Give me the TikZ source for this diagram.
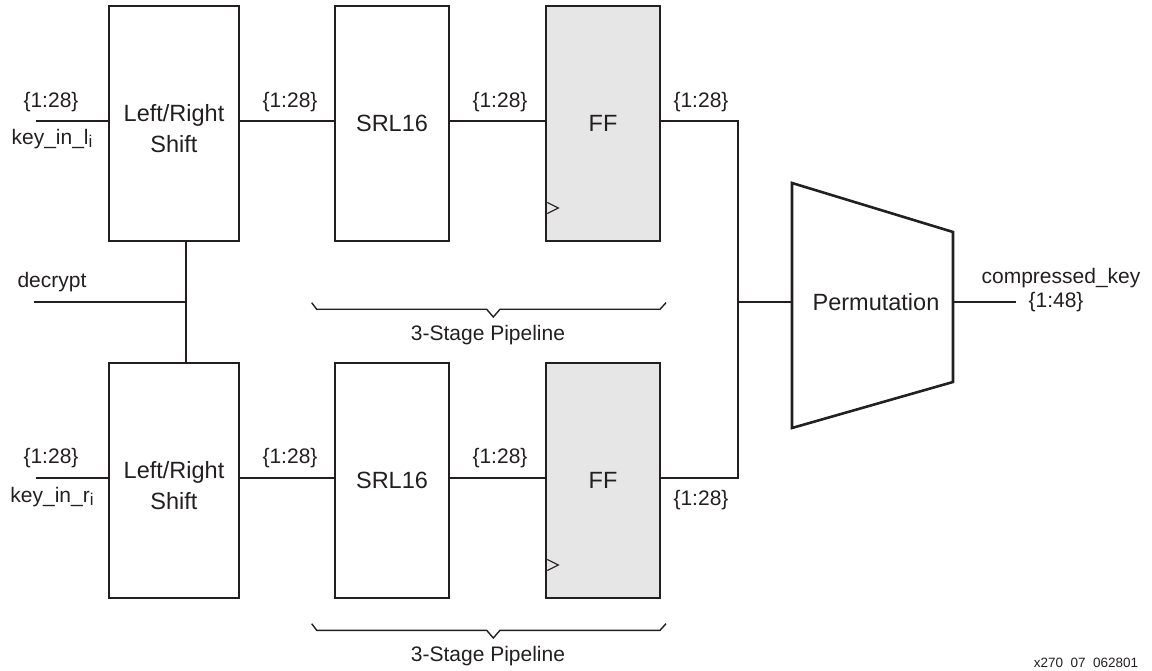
\documentclass[tikz,border=0pt]{standalone}
\usepackage{fontspec}
\setmainfont{Liberation Sans}
\definecolor{ink}{HTML}{231F20}
\definecolor{ffgray}{HTML}{E6E6E6}
\begin{document}
\begin{tikzpicture}[x=1pt,y=-1pt,
  every node/.style={text=ink, font=\fontsize{21}{30}\selectfont},
  blk/.style={draw=ink, line width=2.6pt, inner sep=0pt, outer sep=0pt, minimum height=235pt, align=center, font=\fontsize{23.5}{31}\selectfont},
  lrblk/.style={blk, minimum width=130pt},
  srlblk/.style={blk, minimum width=114pt},
  ffblk/.style={blk, minimum width=114pt, fill=ffgray},
  bus/.style={draw=ink, line width=2.6pt},
  wire/.style={draw=ink, line width=1.4pt},
  lbl/.style={inner sep=0pt},
  pipebrace/.pic={
    \draw[wire] (311.7,302.7) -- (316.7,309.3) -- (486.7,309.3) -- (493.3,317) -- (500,309.3) -- (660,309.3) -- (666,302.7);
  }
]
\useasboundingbox (0,0) rectangle (1152,671);

\coordinate (rowA) at (0,121);
\coordinate (rowB) at (0,478);

% top row
\node[lrblk, label={[font=\fontsize{23.5}{31}\selectfont, align=center, text=ink, yshift=-5pt]center:Left/Right\\Shift}] (lr1) at (174,123.5) {};
\node[srlblk] (srl1) at (392,123.5) {SRL16};
\node[ffblk]  (ff1)  at (603,123.5) {FF};
% bottom row
\node[lrblk, label={[font=\fontsize{23.5}{31}\selectfont, align=center, text=ink, yshift=-5pt]center:Left/Right\\Shift}] (lr2) at (174,480.5) {};
\node[srlblk] (srl2) at (392,480.5) {SRL16};
\node[ffblk]  (ff2)  at (603,480.5) {FF};

% clock triangles
\draw[draw=ink, line width=1.1pt] (ff1.south west) ++(1.3,-38.5) -- ++(11,5.5) -- ++(-11,5.5);
\draw[draw=ink, line width=1.1pt] (ff2.south west) ++(1.3,-38.5) -- ++(11,5.5) -- ++(-11,5.5);

% inputs
\coordinate (inL) at (36,121);
\coordinate (inR) at (36,478);
\draw[wire] (inL) -- (inL -| lr1.west);
\draw[wire] (inR) -- (inR -| lr2.west);
\node[lbl] (inLw) at (51,102) {\{1:28\}};
\node[lbl] (inLn) at (52,139) {key\_in\_l\raisebox{-0.3ex}{\fontsize{17}{17}\selectfont i}};
\node[lbl] (inRw) at (51,458) {\{1:28\}};
\node[lbl] (inRn) at (52,497) {key\_in\_r\raisebox{-0.3ex}{\fontsize{17}{17}\selectfont i}};

% decrypt
\coordinate (dec) at (34,302);
\coordinate (decJ) at (186,302);
\node[lbl] (decl) at (52,282) {decrypt};
\draw[wire] (dec) -- (decJ);
\draw[bus] (lr1.south -| decJ) -- (lr2.north -| decJ);

% pipeline connections
\draw[bus] (lr1.east |- rowA) -- (srl1.west |- rowA);
\draw[bus] (srl1.east |- rowA) -- (ff1.west |- rowA);
\draw[bus] (lr2.east |- rowB) -- (srl2.west |- rowB);
\draw[bus] (srl2.east |- rowB) -- (ff2.west |- rowB);
\node[lbl] (w1) at (290,102) {\{1:28\}};
\node[lbl] (w2) at (500,102) {\{1:28\}};
\node[lbl] (w3) at (701,102) {\{1:28\}};
\node[lbl] (w4) at (290,458) {\{1:28\}};
\node[lbl] (w5) at (500,458) {\{1:28\}};
\node[lbl] (w6) at (701,500) {\{1:28\}};

% bus to permutation
\coordinate (busT) at (738,121);
\coordinate (busB) at (738,478);
\coordinate (busM) at (738,302);
\draw[bus, line join=miter] (ff1.east |- rowA) -- (busT) -- (busB) -- (ff2.east |- rowB);

% permutation
\coordinate (p1) at (792,183);
\coordinate (p2) at (953,232);
\coordinate (p3) at (953,382);
\coordinate (p4) at (792,428);
\coordinate (pin) at (792,302);
\coordinate (pout) at (953,302);
\draw[draw=ink, line width=2.6pt, line join=miter] (p1) -- (p2) -- (p3) -- (p4) -- cycle;
\node[lbl, font=\fontsize{23.5}{31}\selectfont] (perm) at (876,302) {Permutation};
\draw[wire] (busM) -- (pin);
\coordinate (outEnd) at (1016,302);
\draw[wire] (pout) -- (outEnd);
\node[lbl] (ck) at (1061,278) {compressed\_key};
\node[lbl] (cw) at (1056,302) {\{1:48\}};

% braces
\pic at (0,0) {pipebrace};
\pic at (0,321) {pipebrace};
\node[lbl] (pl1) at (488,335) {3-Stage Pipeline};
\node[lbl] (pl2) at (488,656) {3-Stage Pipeline};

\node[lbl, font=\fontsize{13.5}{16}\selectfont] (fig) at (1086,663) {x270\ \ 07\ \ 062801};
\end{tikzpicture}
\end{document}
